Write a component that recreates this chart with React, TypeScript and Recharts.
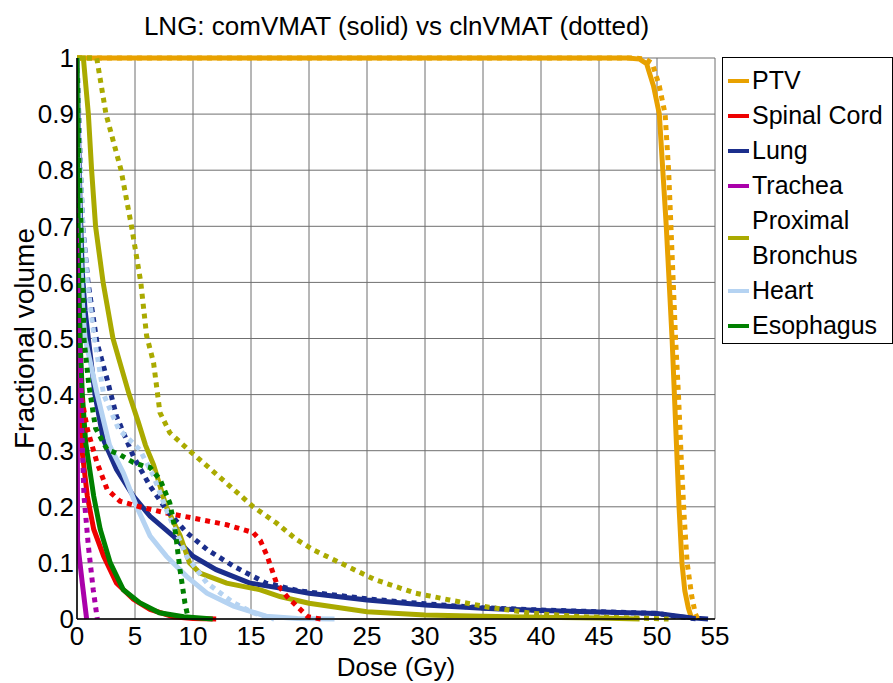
import { CartesianGrid, Line, LineChart, XAxis, YAxis } from "recharts";

type Pt = { d: number; v: number };
const pts = (rows: number[][]): Pt[] => rows.map(([d, v]) => ({ d, v }));

// dose (Gy) vs fractional volume
const ptvSolid = pts([[0, 1], [47.5, 1], [48.5, 0.998], [49.1, 0.99], [49.7, 0.95], [50.2, 0.9], [50.5, 0.8], [50.8, 0.7], [51.05, 0.6], [51.3, 0.5], [51.5, 0.4], [51.7, 0.3], [51.9, 0.2], [52.15, 0.1], [52.4, 0.05], [52.7, 0.02], [53.0, 0]]);
const ptvDotted = pts([[0, 1], [48, 1], [49, 0.998], [49.6, 0.99], [50.2, 0.95], [50.7, 0.9], [51.0, 0.8], [51.2, 0.7], [51.4, 0.6], [51.6, 0.5], [51.85, 0.4], [52.1, 0.28], [52.35, 0.18], [52.6, 0.1], [53.0, 0.04], [53.3, 0.01], [53.5, 0]]);

const cordSolid = pts([[0, 1], [0.1, 0.7], [0.2, 0.5], [0.3, 0.38], [0.46, 0.296], [0.89, 0.219], [1.44, 0.16], [2.3, 0.112], [3.4, 0.064], [4.86, 0.035], [6.3, 0.017], [8.3, 0.004], [10, 0.001], [12.0, 0]]);
const cordDotted = pts([[0, 1], [0.1, 0.7], [0.2, 0.5], [0.35, 0.4], [0.9, 0.338], [1.72, 0.279], [2.6, 0.231], [3.7, 0.21], [5.4, 0.2], [7.7, 0.189], [10, 0.18], [12.9, 0.168], [15.2, 0.154], [15.8, 0.14], [16.4, 0.112], [17.2, 0.064], [18.1, 0.04], [19.0, 0.022], [19.9, 0.004], [21, 0]]);

const lungSolid = pts([[0, 1], [0.1, 0.9], [0.25, 0.75], [0.45, 0.62], [0.7, 0.55], [0.98, 0.5], [1.55, 0.4], [2.27, 0.32], [3.4, 0.267], [4.86, 0.219], [6.3, 0.183], [8.3, 0.148], [10.0, 0.112], [12.0, 0.088], [14.9, 0.064], [17.5, 0.055], [20, 0.046], [25, 0.034], [30, 0.025], [35, 0.019], [40, 0.015], [45, 0.0125], [50, 0.01], [51.5, 0.006], [53, 0.002], [54.4, 0]]);
const lungDotted = pts([[0, 1], [0.15, 0.9], [0.3, 0.8], [0.5, 0.7], [0.95, 0.6], [1.72, 0.493], [2.6, 0.427], [3.4, 0.362], [4.86, 0.29], [6.3, 0.237], [7.7, 0.195], [9.45, 0.154], [11.2, 0.124], [13.5, 0.094], [16.3, 0.064], [19.2, 0.05], [25, 0.036], [30, 0.027], [35, 0.02], [40, 0.016], [45, 0.013], [50, 0.01], [51.5, 0.005], [53.5, 0]]);

const tracheaSolid = pts([[0, 1], [0.02, 0.4], [0.05, 0.14], [0.17, 0.115], [0.45, 0.065], [0.83, 0]]);
const tracheaDotted = pts([[0, 1], [0.1, 0.7], [0.25, 0.5], [0.4, 0.35], [0.6, 0.22], [0.98, 0.13], [1.4, 0.052], [1.75, 0]]);

const bronchSolid = pts([[0, 1], [0.55, 1], [0.98, 0.9], [1.26, 0.8], [1.6, 0.7], [2.25, 0.6], [3.1, 0.5], [3.7, 0.457], [4.5, 0.4], [5.3, 0.35], [5.9, 0.31], [6.6, 0.275], [7.7, 0.2], [8.9, 0.148], [9.7, 0.1], [10.6, 0.082], [12.9, 0.064], [15.8, 0.052], [17.5, 0.04], [20, 0.028], [25, 0.013], [30, 0.007], [35, 0.005], [40, 0.003], [45, 0.002], [48.5, 0]]);
const bronchDotted = pts([[0, 1], [1.7, 1], [2.5, 0.9], [3.8, 0.8], [4.7, 0.7], [5.5, 0.6], [6.0, 0.505], [6.6, 0.457], [7.15, 0.368], [8.0, 0.332], [9.7, 0.3], [11.2, 0.273], [13.5, 0.231], [15.2, 0.2], [17.2, 0.171], [18.9, 0.142], [20.4, 0.123], [23.4, 0.093], [25.7, 0.07], [29.2, 0.046], [32.1, 0.034], [35.5, 0.021], [39.3, 0.01], [43.6, 0.004], [51, 0]]);

const heartSolid = pts([[0, 1], [0.1, 0.85], [0.3, 0.65], [0.5, 0.55], [0.7, 0.5], [1.75, 0.4], [2.8, 0.31], [4.0, 0.26], [5.15, 0.2], [6.3, 0.148], [7.7, 0.112], [9.45, 0.076], [11.2, 0.046], [13.5, 0.023], [16.3, 0.005], [19, 0.001], [22.2, 0]]);
const heartDotted = pts([[0, 1], [0.2, 0.85], [0.5, 0.7], [0.9, 0.6], [1.5, 0.5], [2.3, 0.4], [3.6, 0.338], [5.4, 0.302], [6.6, 0.255], [7.7, 0.195], [9.45, 0.112], [11.2, 0.064], [13.5, 0.029], [15.2, 0.011], [17, 0]]);

const esoSolid = pts([[0, 1], [0.05, 0.8], [0.15, 0.6], [0.3, 0.48], [0.46, 0.4], [0.75, 0.314], [1.44, 0.219], [2.0, 0.16], [2.87, 0.1], [4.0, 0.052], [5.4, 0.029], [7.1, 0.011], [9.2, 0.004], [11.7, 0]]);
const esoDotted = pts([[0, 1], [0.05, 0.95], [0.2, 0.8], [0.35, 0.7], [0.5, 0.6], [0.6, 0.5], [1.0, 0.42], [1.6, 0.34], [2.6, 0.302], [3.7, 0.293], [4.86, 0.279], [5.7, 0.273], [6.3, 0.27], [7.15, 0.249], [8.0, 0.207], [8.45, 0.16], [8.88, 0.088], [9.3, 0.029], [9.6, 0]]);

const structures = [
  { name: "PTV", color: "#E8A100", solid: ptvSolid, dotted: ptvDotted },
  { name: "Spinal Cord", color: "#EE0000", solid: cordSolid, dotted: cordDotted },
  { name: "Lung", color: "#1B2E8C", solid: lungSolid, dotted: lungDotted },
  { name: "Trachea", color: "#AA00AA", solid: tracheaSolid, dotted: tracheaDotted },
  { name: "Proximal Bronchus", color: "#AAAA00", solid: bronchSolid, dotted: bronchDotted },
  { name: "Heart", color: "#B5D3F2", solid: heartSolid, dotted: heartDotted },
  { name: "Esophagus", color: "#008000", solid: esoSolid, dotted: esoDotted },
];

const xTicks = [0, 5, 10, 15, 20, 25, 30, 35, 40, 45, 50, 55];
const yTicks = [0, 0.1, 0.2, 0.3, 0.4, 0.5, 0.6, 0.7, 0.8, 0.9, 1];

const font = '"Liberation Sans", Arial, sans-serif';

export default function App() {
  return (
    <div style={{ position: "absolute", left: 0, top: 0, width: 893, height: 683, fontFamily: font, background: "#fff" }}>
      <div style={{ position: "absolute", left: 0, top: 11, width: 793, textAlign: "center", fontSize: 26, color: "#000" }}>
        LNG: comVMAT (solid) vs clnVMAT (dotted)
      </div>
      <LineChart
        width={893}
        height={683}
        margin={{ top: 58, right: 178, bottom: 24, left: 17 }}
        style={{ position: "absolute", left: 0, top: 0, fontFamily: font }}
      >
        <CartesianGrid stroke="#6f6f6f" strokeWidth={1} />
        <XAxis
          dataKey="d"
          type="number"
          domain={[0, 55]}
          ticks={xTicks}
          allowDataOverflow
          height={40}
          tickSize={0}
          tickMargin={8}
          tick={{ fontSize: 26, fill: "#000" }}
          axisLine={{ stroke: "#000", strokeWidth: 1.5 }}
          label={{ value: "Dose (Gy)", position: "bottom", offset: -1, fontSize: 26, fill: "#000" }}
        />
        <YAxis
          dataKey="v"
          type="number"
          domain={[0, 1]}
          ticks={yTicks}
          width={60}
          tickSize={0}
          tickMargin={3}
          tick={{ fontSize: 26, fill: "#000" }}
          axisLine={{ stroke: "#000", strokeWidth: 1.5 }}
          label={{ value: "Fractional volume", angle: -90, position: "insideLeft", offset: 7, fontSize: 28, fill: "#000", style: { textAnchor: "middle" } }}
        />
        {structures.map((s) => (
          <Line
            key={s.name + "-solid"}
            data={s.solid}
            dataKey="v"
            type="linear"
            stroke={s.color}
            strokeWidth={5}
            dot={false}
            isAnimationActive={false}
          />
        ))}
        {structures.map((s) => (
          <Line
            key={s.name + "-dotted"}
            data={s.dotted}
            dataKey="v"
            type="linear"
            stroke={s.color}
            strokeWidth={5}
            strokeDasharray="5 5"
            dot={false}
            isAnimationActive={false}
          />
        ))}
      </LineChart>
      <div
        style={{
          position: "absolute",
          left: 722,
          top: 57,
          width: 169,
          height: 280,
          border: "1px solid #000",
          paddingTop: 5,
          boxSizing: "content-box",
          background: "#fff",
        }}
      >
        {structures.map((s) => {
          const words = s.name === "Proximal Bronchus" ? ["Proximal", "Bronchus"] : [s.name];
          return (
            <div key={s.name} style={{ position: "relative", height: 35 * words.length, display: "flex", alignItems: "center" }}>
              <div style={{ position: "absolute", left: 5, width: 21, height: 4, background: s.color }} />
              <div style={{ marginLeft: 29, fontSize: 25, lineHeight: "35px", color: "#000" }}>
                {words.map((w) => (
                  <div key={w}>{w}</div>
                ))}
              </div>
            </div>
          );
        })}
      </div>
    </div>
  );
}
